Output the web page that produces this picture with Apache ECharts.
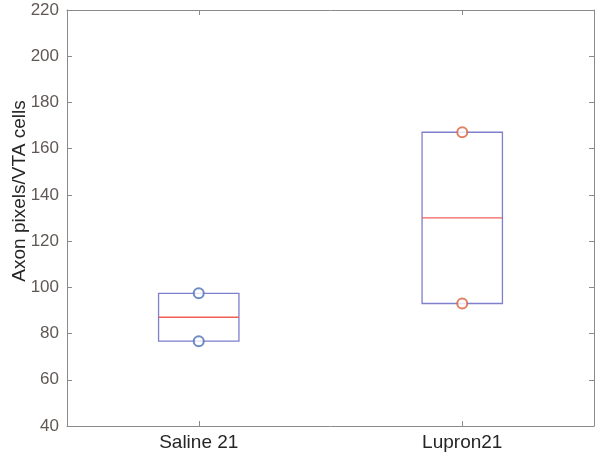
<!DOCTYPE html>
<html>
<head>
<meta charset="utf-8">
<script src="https://cdn.jsdelivr.net/npm/echarts@6/dist/echarts.min.js"></script>
<style>
html,body{margin:0;padding:0;background:#fff;}
#chart{width:595px;height:464px;}
</style>
</head>
<body>
<div id="chart"></div>
<script>
const categories = ['Saline 21', 'Lupron21'];
const salineValues = [97.4, 76.7];
const lupronValues = [167.1, 93.0];
const yTicks = [40, 60, 80, 100, 120, 140, 160, 180, 200, 220];
const pointColors = ['#4a70b5', '#d9603b'];

const groups = [salineValues, lupronValues];
const boxData = groups.map(function (vals, i) {
  const s = vals.slice().sort(function (a, b) { return a - b; });
  const lo = s[0], hi = s[s.length - 1];
  const med = s.length % 2 ? s[(s.length - 1) / 2] : (s[s.length / 2 - 1] + s[s.length / 2]) / 2;
  return [i, lo, med, hi];
});

const chart = echarts.init(document.getElementById('chart'), null, {renderer: 'canvas'});
const axisCol = '#8a8a8a';
const option = {
  animation: false,
  grid: {left: 67, right: 1, top: 10, bottom: 38, show: false, containLabel: false, outerBoundsMode: 'none'},
  xAxis: [{
    type: 'category', data: categories, position: 'bottom',
    axisLine: {show: true, lineStyle: {color: axisCol, width: 1}},
    axisTick: {show: true, inside: true, alignWithLabel: true, length: 5, lineStyle: {color: axisCol}},
    axisLabel: {color: '#262626', fontSize: 19, fontFamily: 'Liberation Sans, Arial, sans-serif', margin: 7},
    splitLine: {show: false}
  }, {
    type: 'category', data: categories, position: 'top',
    axisLine: {show: true, lineStyle: {color: axisCol, width: 1}},
    axisTick: {show: true, inside: true, alignWithLabel: true, length: 5, lineStyle: {color: axisCol}},
    axisLabel: {show: false}, splitLine: {show: false}
  }],
  yAxis: [{
    type: 'value', min: yTicks[0], max: yTicks[yTicks.length - 1], interval: 20, position: 'left',
    name: 'Axon pixels/VTA cells', nameLocation: 'middle', nameGap: 38, nameMoveOverlap: false,
    nameTextStyle: {color: '#262626', fontSize: 19, fontFamily: 'Liberation Sans, Arial, sans-serif', padding: [0, 0, 0, 54]},
    axisLine: {show: true, lineStyle: {color: axisCol, width: 1}},
    axisTick: {show: true, inside: true, length: 5, lineStyle: {color: axisCol}},
    axisLabel: {color: '#5f5855', fontSize: 17, fontFamily: 'Liberation Sans, Arial, sans-serif', margin: 8},
    splitLine: {show: false}
  }, {
    type: 'value', min: yTicks[0], max: yTicks[yTicks.length - 1], interval: 20, position: 'right',
    axisLine: {show: true, lineStyle: {color: axisCol, width: 1}},
    axisTick: {show: true, inside: true, length: 5, lineStyle: {color: axisCol}},
    axisLabel: {show: false}, splitLine: {show: false}
  }],
  series: [{
    type: 'custom',
    xAxisIndex: 0, yAxisIndex: 0,
    data: boxData,
    renderItem: function (params, api) {
      const x = api.value(0);
      const pLo = api.coord([x, api.value(1)]);
      const pMed = api.coord([x, api.value(2)]);
      const pHi = api.coord([x, api.value(3)]);
      const w = api.size([1, 0])[0] * 0.305;
      return {
        type: 'group',
        children: [{
          type: 'rect',
          shape: {x: pLo[0] - w / 2, y: pHi[1], width: w, height: pLo[1] - pHi[1]},
          style: {fill: 'none', stroke: '#7f7fcc', lineWidth: 1.3}
        }, {
          type: 'line',
          shape: {x1: pMed[0] - w / 2, y1: pMed[1], x2: pMed[0] + w / 2, y2: pMed[1]},
          style: {stroke: '#f0605a', lineWidth: 1.3}
        }]
      };
    },
    z: 2
  }].concat(groups.map(function (vals, i) {
    return {
      type: 'scatter',
      xAxisIndex: 0, yAxisIndex: 0,
      data: vals.map(function (v) { return [categories[i], v]; }),
      symbol: 'emptyCircle', symbolSize: 10,
      itemStyle: {color: pointColors[i], borderColor: pointColors[i], borderWidth: 1.5},
      z: 3
    };
  }))
};
chart.setOption(option);
</script>
</body>
</html>
